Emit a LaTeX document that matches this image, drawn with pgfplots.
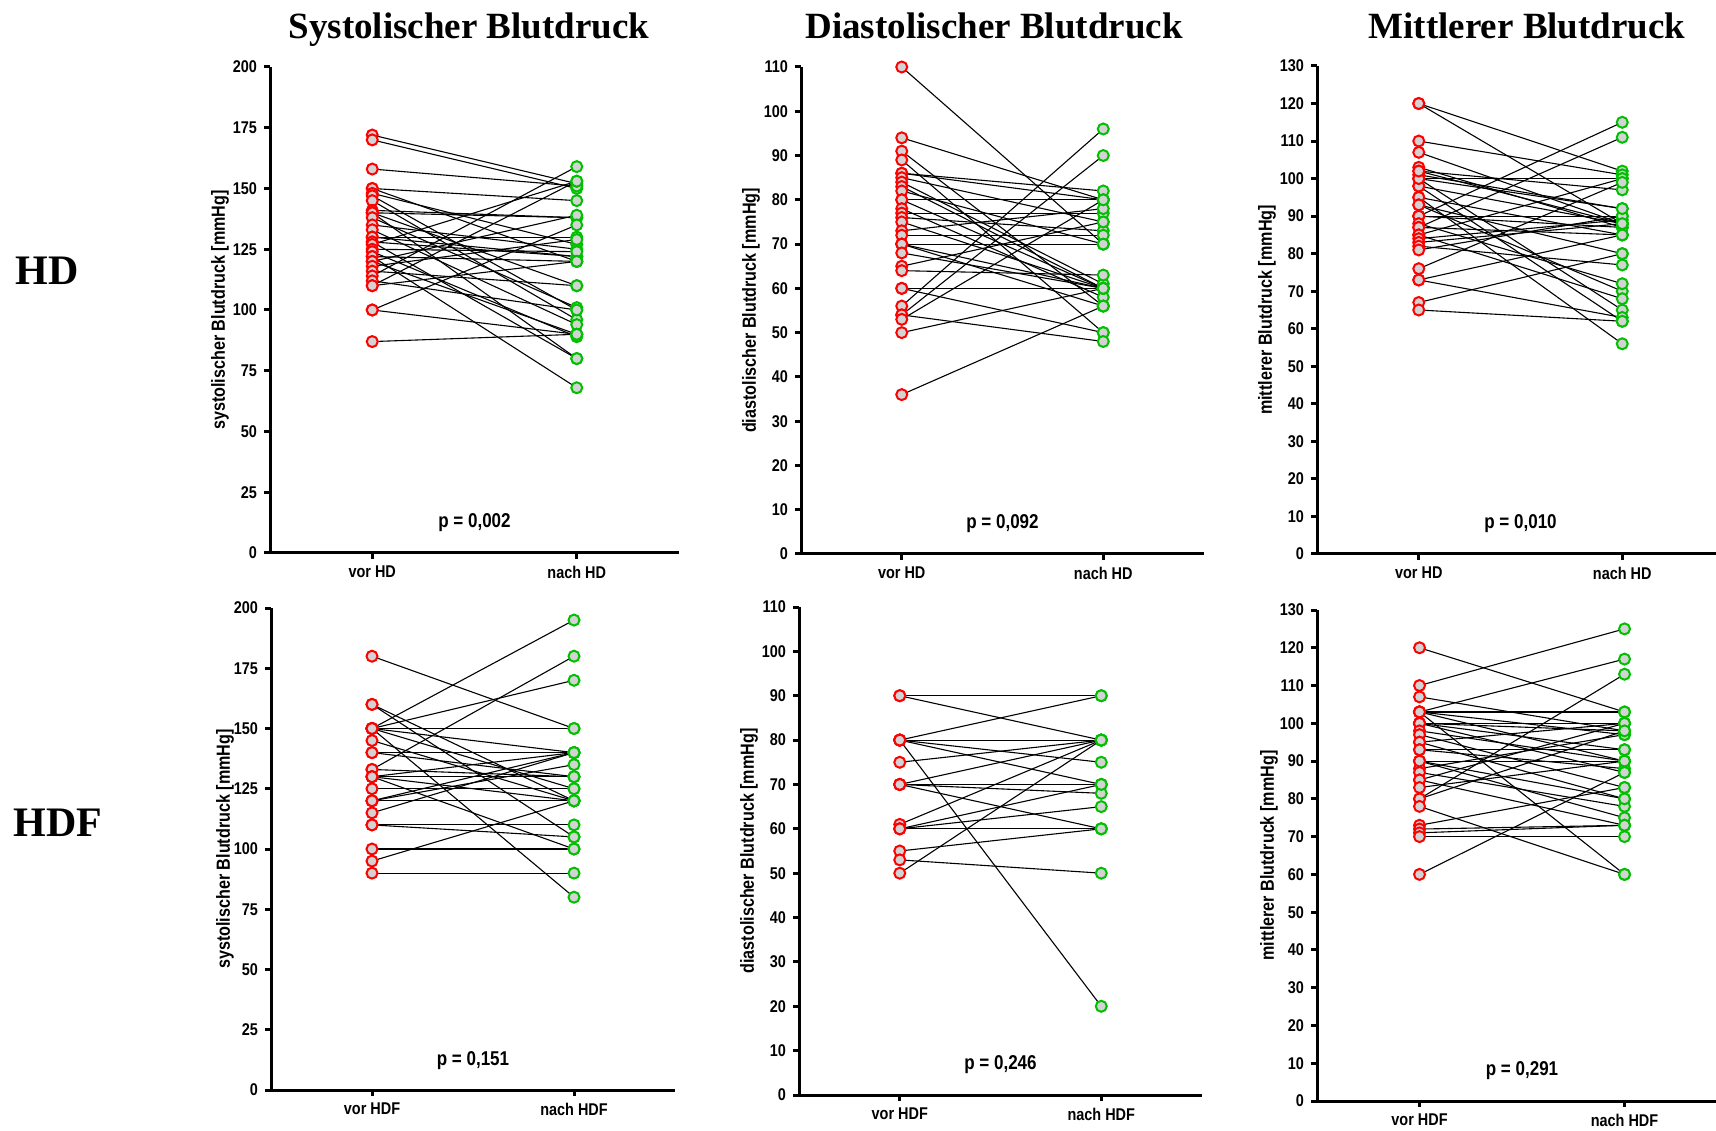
\documentclass[border=0pt]{standalone}
\usepackage{pgfplots}
\pgfplotsset{compat=1.18}
\usepackage{pgfplotstable}
\usepackage{fontspec}
\setmainfont{Liberation Serif}
\newfontfamily\nbfam[FakeStretch=0.85]{Liberation Sans}
\newcommand\tl{\nbfam\bfseries\fontsize{8.5}{9}\selectfont}
\newcommand\lb{\nbfam\bfseries\fontsize{9.5}{10}\selectfont}
\newcommand\pl{\nbfam\bfseries\fontsize{10}{11}\selectfont}
\newcommand\titlefont{\bfseries\fontsize{18.5}{20}\selectfont}
\newcommand\rowfont{\bfseries\fontsize{21}{22}\selectfont}
\definecolor{markgray}{RGB}{211,211,211}
\definecolor{mygreen}{RGB}{0,192,0}
\definecolor{myred}{RGB}{255,0,0}

\pgfplotstableread{
vor nach
172 152
170 150
158 151
150 145
150 120
148 127
147 100
145 96
141 138
140 138
140 110
140 80
138 101
135 125
133 94
130 130
130 122
128 122
128 80
127 153
125 124
124 89
122 120
122 68
120 139
120 90
118 129
116 110
114 159
112 100
110 153
110 120
100 135
100 90
87 90
}\sysHD

\pgfplotstableread{
vor nach
110 70
94 80
91 56
89 50
86 82
86 80
85 75
84 61
83 60
82 70
80 80
80 60
78 58
77 77
76 73
75 60
73 78
72 72
70 70
70 60
70 56
68 60
65 75
64 63
60 60
60 50
56 96
54 90
54 48
53 80
50 60
36 56
}\diaHD

\pgfplotstableread{
vor nach
120 102
120 88
110 101
107 88
103 87
102 97
101 92
100 100
100 65
98 88
98 62
95 85
95 56
93 80
93 70
90 115
90 90
90 87
88 72
87 111
87 85
85 100
85 68
84 89
83 88
82 77
81 90
76 99
73 85
73 63
67 80
65 62
100 92
102 88
}\mapHD

\pgfplotstableread{
vor nach
180 150
160 120
160 105
150 195
150 170
150 150
150 140
150 125
150 80
145 120
140 140
140 130
133 180
133 130
130 140
130 130
130 120
130 100
125 125
120 140
120 135
120 120
115 140
110 110
110 105
100 100
95 120
90 90
}\sysHDF

\pgfplotstableread{
vor nach
90 90
90 80
80 90
80 80
80 75
80 70
80 20
75 80
70 80
70 70
70 68
70 60
61 80
60 70
60 65
60 60
55 60
53 50
50 80
}\diaHDF

\pgfplotstableread{
vor nach
120 103
110 125
107 98
103 117
103 103
103 97
103 90
103 60
100 100
100 98
100 93
100 87
98 90
97 83
95 80
95 100
93 93
93 88
90 90
90 75
88 97
87 78
85 100
85 73
83 90
80 113
80 98
78 60
73 83
72 73
71 73
70 70
60 87
90 80
}\mapHDF

\newcommand\pairs[1]{%
  \pgfplotstablegetrowsof{#1}%
  \pgfmathtruncatemacro\lastrow{\pgfplotsretval-1}%
  \pgfplotsforeachungrouped \i in {0,...,\lastrow}{%
    \pgfplotstablegetelem{\i}{vor}\of{#1}\let\va\pgfplotsretval
    \pgfplotstablegetelem{\i}{nach}\of{#1}\let\vb\pgfplotsretval
    \edef\doplot{\noexpand\addplot[black, line width=0.55pt, forget plot] coordinates {(1,\va) (2,\vb)};}%
    \doplot
  }%
  \addplot[only marks, mark=*, mark size=2.75pt, mark options={draw=myred, fill=markgray, line width=1pt}] table[x expr=1, y=vor]{#1};
  \addplot[only marks, mark=*, mark size=2.75pt, mark options={draw=mygreen, fill=markgray, line width=1pt}] table[x expr=2, y=nach]{#1};
}

\pgfplotsset{
  panel/.style={
    scale only axis, anchor=south west,
    axis x line*=bottom, axis y line*=left,
    axis line style={line width=1.5pt},
    xmin=0.5, xmax=2.5, xtick={1,2}, ymin=0,
    tick style={line width=1.5pt, black}, major tick length=3pt,
    tick align=outside,
    tick label style={font=\tl},
    /pgf/number format/assume math mode=true,
    ylabel style={font=\lb, at={(axis description cs:0,0.5)}, anchor=center, rotate=0, yshift=25pt},
    clip=false,
  }
}

\begin{document}
\begin{tikzpicture}[x=1pt,y=1pt]
\useasboundingbox (0,0) rectangle (858,565);

\node[font=\titlefont, anchor=base] at (234.5,545.8) {Systolischer Blutdruck};
\node[font=\titlefont, anchor=base] at (497,545.8) {Diastolischer Blutdruck};
\node[font=\titlefont, anchor=base] at (763.5,545.8) {Mittlerer Blutdruck};
\node[font=\rowfont] at (23.5,429.5) {HD};
\node[font=\rowfont] at (29,153.5) {HDF};

% Row 1
\begin{axis}[panel, at={(135pt,288.5pt)}, width=204.5pt, height=243pt,
  ymax=200, ytick={0,25,...,200}, xticklabels={vor HD, nach HD},
  ylabel={systolischer Blutdruck [mmHg]}]
\pairs{\sysHD}
\node[font=\pl] at (rel axis cs:0.5,0.062) {p = 0,002};
\end{axis}

\begin{axis}[panel, at={(400.5pt,288pt)}, width=201.5pt, height=243.5pt,
  ymax=110, ytick={0,10,...,110}, xticklabels={vor HD, nach HD},
  ylabel={diastolischer Blutdruck [mmHg]}]
\pairs{\diaHD}
\node[font=\pl] at (rel axis cs:0.5,0.062) {p = 0,092};
\end{axis}

\begin{axis}[panel, at={(658.5pt,288pt)}, width=203.5pt, height=244pt,
  ymax=130, ytick={0,10,...,130}, xticklabels={vor HD, nach HD},
  ylabel={mittlerer Blutdruck [mmHg]}]
\pairs{\mapHD}
\node[font=\pl] at (rel axis cs:0.5,0.062) {p = 0,010};
\end{axis}

% Row 2
\begin{axis}[panel, at={(135.5pt,20pt)}, width=202pt, height=241pt,
  ymax=200, ytick={0,25,...,200}, xticklabels={vor HDF, nach HDF},
  ylabel={systolischer Blutdruck [mmHg]}, ylabel style={yshift=-2pt}]
\pairs{\sysHDF}
\node[font=\pl] at (rel axis cs:0.5,0.062) {p = 0,151};
\end{axis}

\begin{axis}[panel, at={(399.5pt,17.5pt)}, width=201.5pt, height=244pt,
  ymax=110, ytick={0,10,...,110}, xticklabels={vor HDF, nach HDF},
  ylabel={diastolischer Blutdruck [mmHg]}]
\pairs{\diaHDF}
\node[font=\pl] at (rel axis cs:0.5,0.062) {p = 0,246};
\end{axis}

\begin{axis}[panel, at={(658.5pt,14.5pt)}, width=205pt, height=245.5pt,
  ymax=130, ytick={0,10,...,130}, xticklabels={vor HDF, nach HDF},
  ylabel={mittlerer Blutdruck [mmHg]}, ylabel style={yshift=-1pt}]
\pairs{\mapHDF}
\node[font=\pl] at (rel axis cs:0.5,0.062) {p = 0,291};
\end{axis}
\end{tikzpicture}
\end{document}
